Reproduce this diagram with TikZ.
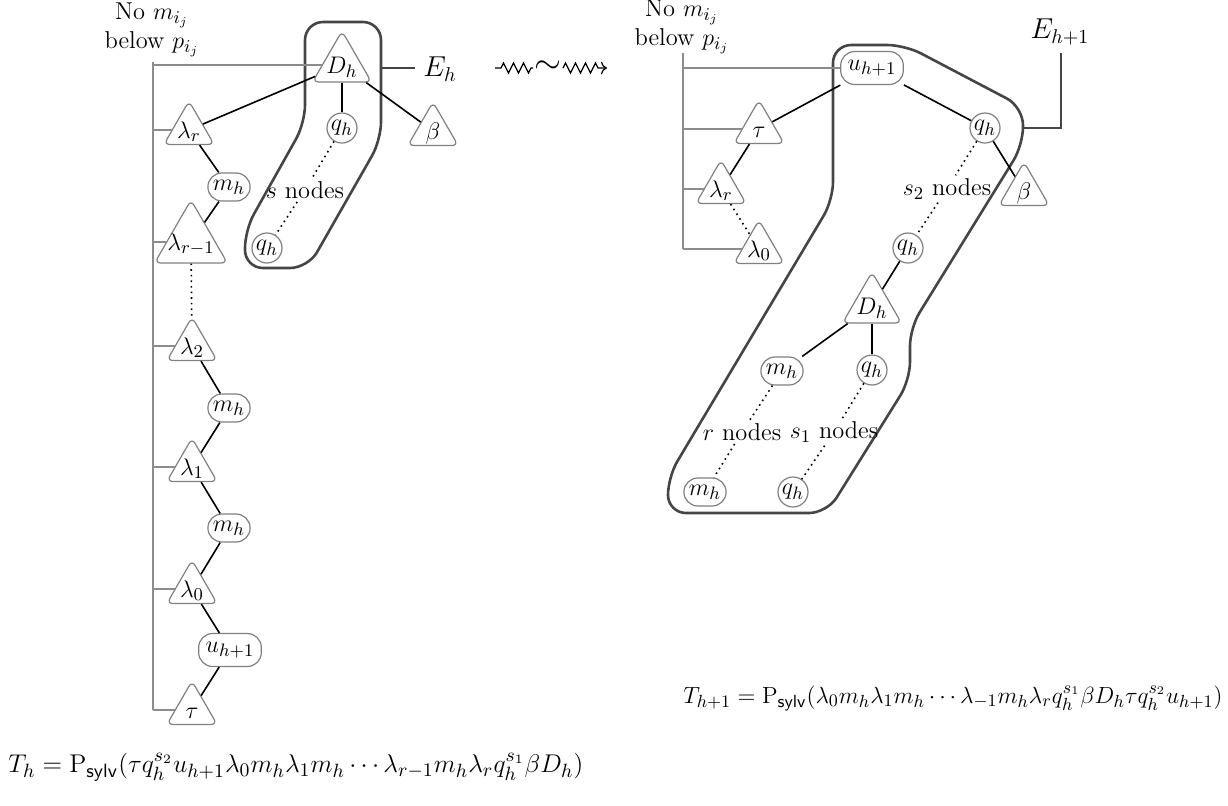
\documentclass[tikz,border=0pt]{standalone}
\usepackage{graphicx}
\usetikzlibrary{shapes.geometric,decorations.pathmorphing,arrows.meta}
\definecolor{nodegray}{gray}{0.5}
\definecolor{railgray}{gray}{0.55}
\definecolor{blobgray}{gray}{0.27}
\newcommand{\tlab}[1]{\makebox[0pt]{\raisebox{-0.75ex}[0pt][0pt]{$#1$}}}
\begin{document}
\begin{tikzpicture}[x=0.5pt,y=-0.5pt,
  every node/.style={font=\fontsize{12.2}{14.5}\selectfont},
  tri/.style={draw=nodegray, fill=white, regular polygon, regular polygon sides=3, inner sep=0pt, minimum size=29pt, rounded corners=3pt, line width=0.6pt, font=\fontsize{12.8}{15}\selectfont},
  circ/.style={draw=nodegray, fill=white, circle, inner sep=0.5pt, minimum size=15pt, line width=0.6pt, font=\fontsize{12.8}{15}\selectfont},
  rr/.style={draw=nodegray, fill=white, rounded corners=7pt, inner xsep=2.5pt, inner ysep=3pt, minimum height=14pt, line width=0.6pt, font=\fontsize{12.8}{15}\selectfont},
  link/.style={line width=0.8pt, black},
  dotlink/.style={dotted, line width=0.8pt, black},
  rail/.style={draw=railgray, line width=0.8pt},
  blob/.style={draw=blobgray, line width=1.3pt, rounded corners=9pt},
  eline/.style={draw=blobgray, line width=1.3pt},
  lbl/.style={align=center, inner sep=1.5pt},
]
\useasboundingbox (0,0) rectangle (1228,805);

% ---------------- left tree ----------------
\draw[blob] (305,22) -- (381,22) -- (381,140) -- (308,268) -- (245,268) -- (245,230) -- (305,123) -- cycle;

\node[lbl] (lab1) at (152,30) {No $m_{i_j}$\\below $p_{i_j}$};

\node[tri, minimum size=34pt] (Dh) at (342,65) {\tlab{D_h}};
\node[circ] (q1) at (342,128) {$q_h$};
\node[circ] (q2) at (267,248) {$q_h$};
\node[lbl] (sn) at (305,190) {$s$ nodes};
\node[tri] (beta) at (433,131) {\tlab{\beta}};
\node[tri] (lr) at (189,130) {\tlab{\lambda_r}};
\node[rr] (m1) at (229,187) {$m_h$};
\node[tri, minimum size=42pt] (lr1) at (191,242) {\tlab{\lambda_{r-1}}};
\node[tri] (l2) at (192,346) {\tlab{\lambda_2}};
\node[rr] (m2) at (229,408) {$m_h$};
\node[tri] (l1) at (192,467) {\tlab{\lambda_1}};
\node[rr] (m3) at (229,528) {$m_h$};
\node[tri] (l0) at (192,589) {\tlab{\lambda_0}};
\node[rr, inner xsep=3.5pt, minimum height=16.5pt] (u1) at (230,650) {$u_{h+1}$};
\node[tri] (t1) at (192,710) {\tlab{\tau}};

\coordinate (LT) at (153,62);
\coordinate (LB) at (153,710);
\draw[rail] (LT) -- (LB);
\foreach \n in {Dh,lr,lr1,l2,l1,l0,t1} { \draw[rail] (LT |- \n) -- (\n); }

\draw[link] (Dh) -- (lr);
\draw[link] (Dh) -- (q1);
\draw[link] (Dh) -- (beta);
\draw[dotlink] (q1) -- (sn) -- (q2);
\draw[link] (lr) -- (m1) -- (lr1);
\draw[dotlink] (lr1) -- (l2);
\draw[link] (l2) -- (m2) -- (l1) -- (m3) -- (l0) -- (u1) -- (t1);

\coordinate (EhL) at (381,68);
\node[inner sep=4pt] (Eh) at (440,69) {\fontsize{14}{16}\selectfont$E_h$};
\draw[eline] (EhL) -- (Eh.west |- EhL);

% ---------------- squiggle arrow ----------------
\coordinate (sq1) at (495,68);
\coordinate (sq2) at (533,68);
\coordinate (sq3) at (563,68);
\coordinate (sq4) at (607,68);
\draw[line width=0.6pt, decorate, decoration={zigzag, amplitude=2.5pt, segment length=5pt, pre length=3pt}] (sq1) -- (sq2);
\node (tilde) at (548,67) {\fontsize{16}{18}\selectfont$\sim$};
\draw[line width=0.6pt, decorate, decoration={zigzag, amplitude=2.5pt, segment length=5pt, post length=3pt}, -{To[length=3pt]}] (sq3) -- (sq4);

% ---------------- right tree ----------------
\draw[blob] (833,45) -- (905,45) -- (1023,107) -- (1023,145) -- (910,328) -- (910,380) -- (827,513) -- (668,513) -- (668,477) -- (833,200) -- cycle;

\node[lbl] (lab2) at (682,27) {No $m_{i_j}$\\below $p_{i_j}$};

\node[rr, inner xsep=3.5pt, minimum height=16.5pt] (u2) at (872,68) {$u_{h+1}$};
\node[tri] (t2) at (759,129) {\tlab{\tau}};
\node[tri] (lr2) at (721,189) {\tlab{\lambda_r}};
\node[tri] (l02) at (759,249) {\tlab{\lambda_0}};
\node[circ] (q3) at (985,128) {$q_h$};
\node[tri] (beta2) at (1024,191) {\tlab{\beta}};
\node[lbl] (s2n) at (947,189) {$s_2$ nodes};
\node[circ] (q4) at (908,248) {$q_h$};
\node[tri, minimum size=34pt] (Dh2) at (872,306) {\tlab{D_h}};
\node[rr] (m4) at (782,371) {$m_h$};
\node[circ] (q5) at (872,370) {$q_h$};
\node[lbl] (rn) at (742,432) {$r$ nodes};
\node[lbl] (s1n) at (834,432) {$s_1$ nodes};
\node[rr] (m5) at (705,492) {$m_h$};
\node[circ] (q6) at (793,492) {$q_h$};

\coordinate (RT) at (683,53);
\coordinate (RB) at (683,249);
\draw[rail] (RT) -- (RB);
\foreach \n in {u2,t2,lr2,l02} { \draw[rail] (RT |- \n) -- (\n); }

\draw[link] (u2) -- (t2);
\draw[link] (u2) -- (q3);
\draw[link] (t2) -- (lr2);
\draw[dotlink] (lr2) -- (l02);
\draw[link] (q3) -- (beta2);
\draw[dotlink] (q3) -- (s2n) -- (q4);
\draw[link] (q4) -- (Dh2);
\draw[link] (Dh2) -- (m4);
\draw[link] (Dh2) -- (q5);
\draw[dotlink] (m4) -- (rn) -- (m5);
\draw[dotlink] (q5) -- (s1n) -- (q6);

\coordinate (ER) at (1023,128);
\coordinate (Etop) at (1061,53);
\node (Eh1) at (1060,32) {\fontsize{14}{16}\selectfont$E_{h+1}$};
\draw[eline] (ER) -| (Etop);

% ---------------- formulas ----------------
\node[anchor=west, inner sep=0pt] (Th1) at (683,698) {\resizebox{269.5pt}{!}{$T_{h+1} = \mathrm{P}_{\mathsf{sylv}}(\lambda_0 m_h \lambda_1 m_h \cdots \lambda_{-1} m_h \lambda_r q_h^{s_1}\beta D_h \tau q_h^{s_2} u_{h+1})$}};
\node[anchor=west, inner sep=0pt] (Th) at (8,767) {\resizebox{287.5pt}{!}{$T_h = \mathrm{P}_{\mathsf{sylv}}(\tau q_h^{s_2} u_{h+1}\lambda_0 m_h\lambda_1 m_h\cdots\lambda_{r-1} m_h\lambda_r q_h^{s_1}\beta D_h)$}};
\end{tikzpicture}
\end{document}
